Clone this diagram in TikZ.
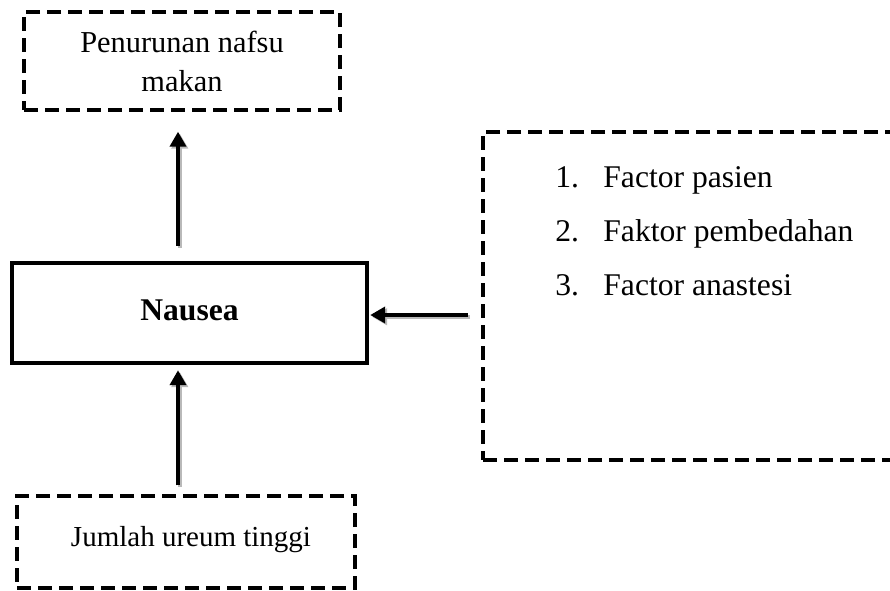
\documentclass[tikz,border=0pt]{standalone}
\usepackage{fontspec}
\setmainfont{Liberation Serif}
\usetikzlibrary{arrows.meta}
\begin{document}
\begin{tikzpicture}[x=0.5pt,y=-0.5pt,
 txt/.style={font=\fontsize{15.8}{19.5}\selectfont},
 dbox/.style={draw, line width=1.7pt, dash pattern=on 7pt off 3.5pt, inner sep=0pt, txt, align=center},
 mainbox/.style={draw, line width=2.2pt, inner sep=0pt, font=\fontsize{15.8}{19.5}\selectfont\bfseries},
 tip/.style={-{Triangle[length=7.5pt,width=8pt]}},
 arr/.style={line width=2.2pt, tip, preaction={draw=gray!55, line width=2.2pt, tip, transform canvas={xshift=0.9pt,yshift=-0.9pt}}},
 item/.style={anchor=base west, inner sep=0pt, txt}]
\useasboundingbox (0,0) rectangle (890,590);
\node[dbox, minimum width=158pt, minimum height=49pt, font=\fontsize{15.2}{19.5}\selectfont] (top) at (182,61) {Penurunan nafsu\\makan};
\node[mainbox, minimum width=177.5pt, minimum height=50pt] (nausea) at (189.5,313) {\raisebox{3pt}{Nausea}};
\node[dbox, minimum width=211pt, minimum height=164pt] (factors) at (694,296) {};
\node[dbox, minimum width=169pt, minimum height=46pt, font=\fontsize{14.5}{18}\selectfont] (ureum) at (186,542) {\hspace{5pt}\raisebox{6pt}{Jumlah ureum tinggi}};
\node[item] (n1) at (555,187) {1.};
\node[item] (t1) at (603,187) {Factor pasien};
\node[item] (n2) at (555,241) {2.};
\node[item] (t2) at (603,241) {Faktor pembedahan};
\node[item] (n3) at (555,295) {3.};
\node[item] (t3) at (603,295) {Factor anastesi};
\coordinate (col) at (178,0);
\draw[arr, shorten <=7.5pt, shorten >=10pt] (nausea.north -| col) -- (top.south -| col);
\draw[arr, shorten <=6.5pt, shorten >=0.5pt] ([yshift=-1pt]factors.west |- nausea.east) -- ([yshift=-1pt]nausea.east);
\draw[arr, shorten <=4.5pt, shorten >=2.5pt] (ureum.north -| col) -- (nausea.south -| col);
\end{tikzpicture}
\end{document}
